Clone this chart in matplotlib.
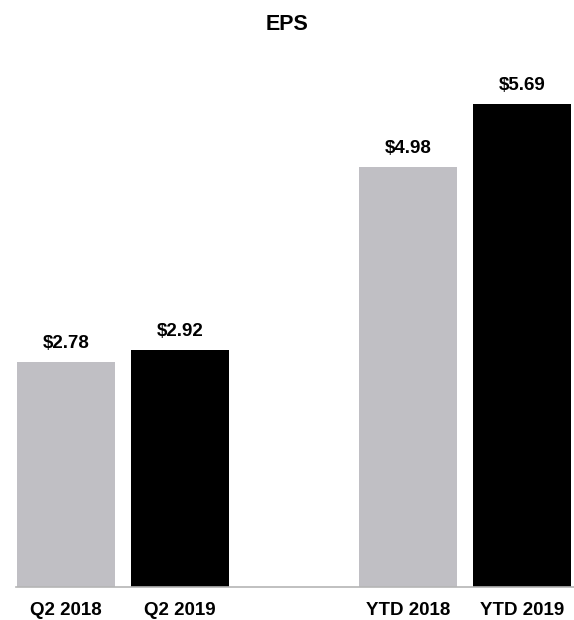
import matplotlib
matplotlib.use('Agg')
import matplotlib.pyplot as plt

# Chart data
categories = ['Q2 2018', 'Q2 2019', 'YTD 2018', 'YTD 2019']
eps_values = [2.78, 2.92, 4.98, 5.69]
positions = [0, 1, 3, 4]
bar_colors = ['#c0bfc4', '#000000', '#c0bfc4', '#000000']

plt.rcParams['font.family'] = ['Liberation Sans', 'DejaVu Sans']

fig = plt.figure(figsize=(5.74, 6.2), dpi=100)
ax = fig.add_axes([16 / 574, 33 / 620, 558 / 574, 528 / 620])

bars = ax.bar(positions, eps_values, width=0.86, color=bar_colors)

# value labels above bars
for pos, val in zip(positions, eps_values):
    ax.annotate(f'${val:.2f}', xy=(pos, val), xytext=(0, 10),
                textcoords='offset points', ha='center', va='baseline',
                fontsize=13.5, fontweight='bold')

ax.set_xlim(-0.44, 4.456)
ax.set_ylim(0.24, 6.2)
ax.set_xticks(positions)
ax.set_xticklabels(categories, fontsize=13.5, fontweight='bold')
ax.tick_params(axis='x', length=0, pad=11)
ax.set_yticks([])

for side in ['top', 'right', 'left']:
    ax.spines[side].set_visible(False)
ax.spines['bottom'].set_color('#b5b5b5')
ax.spines['bottom'].set_linewidth(1.2)

fig.text(0.5, 1 - 25 / 620, 'EPS', ha='center', va='center',
         fontsize=15.5, fontweight='bold')

fig.savefig('out.png', dpi=100)
